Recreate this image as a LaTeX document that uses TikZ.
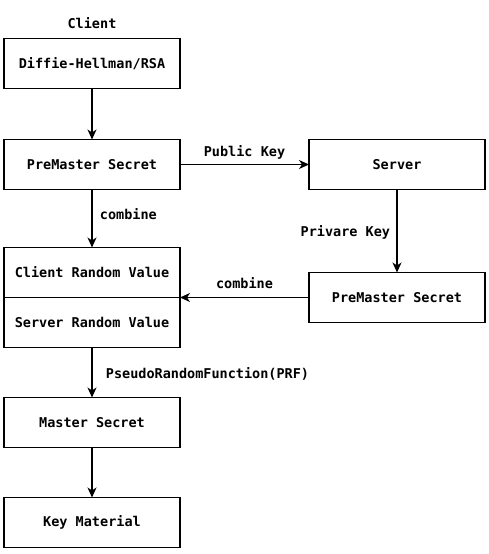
\documentclass[tikz,border=0pt]{standalone}
\usepackage{fontspec}
\setmonofont{DejaVu Sans Mono}
\usetikzlibrary{arrows.meta,positioning}
\newcommand{\diafont}{\ttfamily\bfseries\fontsize{13.5}{16}\selectfont}

\begin{document}
\begin{tikzpicture}[x=1pt,y=-1pt,
box/.style={draw=black, line width=1.2pt, minimum width=176pt, minimum height=50pt, inner sep=0pt, outer sep=0pt, font=\diafont},
lbl/.style={font=\diafont},
arrow/.style={-{Stealth[length=10pt,width=9pt,inset=3pt]}, line width=1.2pt}
]
\useasboundingbox (0,0) rectangle (488,554);

% client side
\node[box] (dh) at (92,63.5) {Diffie-Hellman/RSA};
\node[lbl, above=6pt of dh] (client) {Client};
\node[box, below=51pt of dh] (pms) {PreMaster Secret};
\node[box, below=58pt of pms] (crv) {Client Random Value};
\node[box, below=0pt of crv] (srv) {Server Random Value};
\node[box, below=50pt of srv] (ms) {Master Secret};
\node[box, below=50pt of ms] (km) {Key Material};

% server side
\node[box, right=129pt of pms] (srvr) {Server};
\node[box, below=83pt of srvr] (spms) {PreMaster Secret};

\draw[arrow] (dh) -- (pms);
\draw[arrow] (pms) -- node[lbl, above, yshift=1pt]{Public Key} (srvr);
\draw[arrow] (srvr) -- node[lbl, left, xshift=-3pt, yshift=-1pt]{Privare Key} (spms);
\draw[arrow] (pms) -- node[lbl, right, xshift=4pt, yshift=4pt]{combine} (crv);
\draw[arrow] (spms.west) -- node[lbl, above, yshift=5pt]{combine} (spms.west -| crv.south east);
\draw[arrow] (srv) -- node[lbl, right, xshift=10pt, yshift=-1pt]{PseudoRandomFunction(PRF)} (ms);
\draw[arrow] (ms) -- (km);
\end{tikzpicture}
\end{document}
